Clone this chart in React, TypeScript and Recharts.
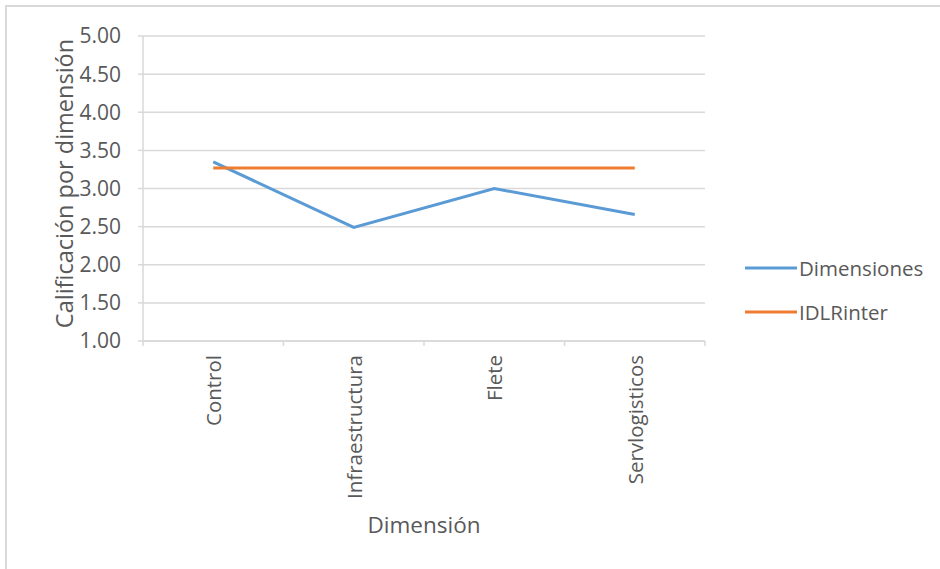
import { LineChart, Line, XAxis, YAxis, CartesianGrid, Legend } from "recharts";

const categories = ["Control", "Infraestructura", "Flete", "Servlogisticos"];
const dimensiones = [3.35, 2.49, 3.0, 2.66];
const idlrInter = [3.27, 3.27, 3.27, 3.27];
const yTicks = [1, 1.5, 2, 2.5, 3, 3.5, 4, 4.5, 5];

const FONT = "'Open Sans', 'Noto Sans', sans-serif";
const TEXT = "#595959";
const RULE = "#d9d9d9";

// categories sit in the middle of each band; whole numbers mark band edges
const data = categories.map((name, i) => ({
  pos: i + 0.5,
  name,
  Dimensiones: dimensiones[i],
  IDLRinter: idlrInter[i],
}));
const xTicks = [...categories.flatMap((_, i) => [i, i + 0.5]), categories.length];

function CategoryTick(props: any) {
  const { x, y, payload } = props;
  const v = Number(payload.value);
  if (Number.isInteger(v)) {
    return <line x1={x} x2={x} y1={y} y2={y + 5} stroke={RULE} strokeWidth={1.5} />;
  }
  const label = categories[Math.floor(v)];
  return (
    <text
      x={x}
      y={y + 14}
      transform={`rotate(-90, ${x}, ${y + 14})`}
      textAnchor="end"
      dominantBaseline="central"
      fill={TEXT}
      fontSize={20.5}
      fontFamily={FONT}
    >
      {label}
    </text>
  );
}

function LegendBox(props: any) {
  const items = props.payload || [];
  return (
    <svg width={200} height={90}>
      {items.map((item: any, i: number) => (
        <g key={item.value}>
          <line x1={2} x2={54} y1={13 + i * 44} y2={13 + i * 44} stroke={item.color} strokeWidth={3} />
          <text x={56} y={13 + i * 44} dominantBaseline="central" fill={TEXT} fontSize={20.5} fontFamily={FONT}>
            {item.value}
          </text>
        </g>
      ))}
    </svg>
  );
}

export default function App() {
  return (
    <div style={{ position: "absolute", left: 0, top: 0, width: 940, height: 569, background: "#fff" }}>
      <div
        style={{
          position: "absolute",
          left: 5,
          top: 5,
          width: 950,
          height: 580,
          borderLeft: `2px solid ${RULE}`,
          borderTop: `2px solid ${RULE}`,
        }}
      />
      <LineChart width={940} height={569} data={data} margin={{ top: 36, right: 35, bottom: 0, left: 0 }}>
        <CartesianGrid vertical={false} stroke={RULE} strokeWidth={1.5} />
        <XAxis
          dataKey="pos"
          type="number"
          domain={[0, categories.length]}
          ticks={xTicks}
          interval={0}
          height={228}
          tickLine={false}
          tickSize={0}
          tickMargin={0}
          axisLine={{ stroke: RULE, strokeWidth: 1.5 }}
          tick={<CategoryTick />}
          label={{
            content: ({ viewBox }: any) => (
              <text
                x={viewBox.x + viewBox.width / 2}
                y={viewBox.y + 183}
                textAnchor="middle"
                dominantBaseline="central"
                fill={TEXT}
                fontSize={22.5}
                fontFamily={FONT}
              >
                Dimensión
              </text>
            ),
          }}
        />
        <YAxis
          type="number"
          domain={[1, 5]}
          ticks={yTicks}
          interval={0}
          width={143}
          tickSize={5}
          tickMargin={17}
          tickLine={{ stroke: RULE, strokeWidth: 1.5 }}
          axisLine={{ stroke: RULE, strokeWidth: 1.5 }}
          tickFormatter={(v: number) => v.toFixed(2)}
          tick={{ fill: TEXT, fontSize: 21, fontFamily: FONT }}
          label={{
            content: ({ viewBox }: any) => {
              const cx = viewBox.x + 64;
              const cy = viewBox.y + viewBox.height / 2 - 5;
              return (
                <text
                  x={cx}
                  y={cy}
                  transform={`rotate(-90, ${cx}, ${cy})`}
                  textAnchor="middle"
                  dominantBaseline="central"
                  fill={TEXT}
                  fontSize={23.5}
                  fontFamily={FONT}
                >
                  Calificación por dimensión
                </text>
              );
            },
          }}
        />
        <Legend
          layout="vertical"
          align="right"
          verticalAlign="middle"
          content={<LegendBox />}
          wrapperStyle={{ left: 743, right: "auto", top: 255, width: 200, height: 90 }}
        />
        <Line
          dataKey="Dimensiones"
          stroke="#5b9bd5"
          strokeWidth={3}
          dot={false}
          activeDot={false}
          isAnimationActive={false}
        />
        <Line
          dataKey="IDLRinter"
          stroke="#ed7d31"
          strokeWidth={3}
          dot={false}
          activeDot={false}
          isAnimationActive={false}
        />
      </LineChart>
    </div>
  );
}
